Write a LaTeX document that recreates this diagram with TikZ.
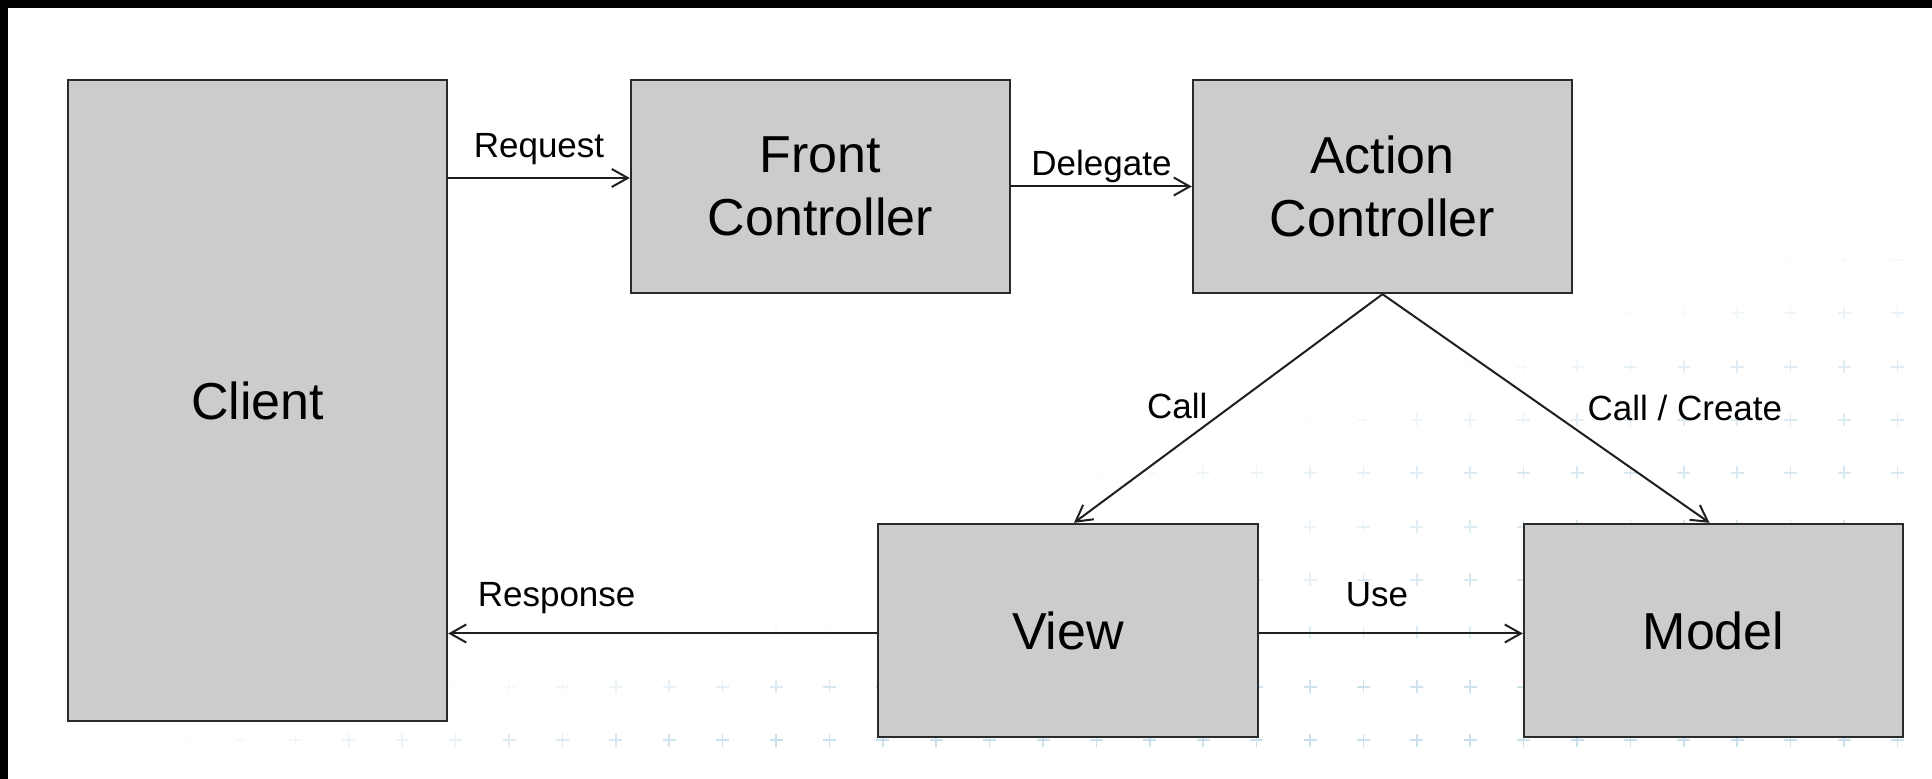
\documentclass[tikz,border=0pt]{standalone}
\usepackage{fontspec}
\setmainfont{Liberation Sans}
\usetikzlibrary{arrows.meta}
\definecolor{boxfill}{HTML}{CCCCCC}
\definecolor{boxline}{HTML}{2A2A2A}
\definecolor{crossblue}{HTML}{B4D4E6}

\begin{document}
\begin{tikzpicture}[x=0.5pt,y=-0.5pt,
  box/.style={draw=boxline, fill=boxfill, line width=1.2pt, inner sep=0pt,
    align=center, font=\fontsize{26}{31.5}\selectfont, text=black},
  conn/.style={draw=black!88, line width=1pt,
    -{Straight Barb[length=8pt,width=9pt,line width=1pt]}},
  lbl/.style={inner sep=0pt, font=\fontsize{17.5}{21}\selectfont, text=black},
  crossmark/.style={draw=crossblue, line width=0.8pt}]

% canvas and dark frame edges
\useasboundingbox (0,0) rectangle (1932,779);
\fill[white] (0,0) rectangle (1932,779);
\fill[black] (0,0) rectangle (1932,8);
\fill[black] (0,0) rectangle (8,779);

% faint grid of plus signs, fading towards the upper left
\foreach \yy/\xs/\ww/\mx in {740/150/600/0.7, 687/430/500/0.65, 633/600/700/0.45,
                             580/1000/450/0.5, 527/1150/400/0.55, 473/1050/450/0.5,
                             420/1250/400/0.45, 367/1420/300/0.4, 313/1580/300/0.3,
                             260/1740/300/0.22} {
  \foreach \k in {-24,...,11} {
    \pgfmathsetmacro\xx{1310+53.4*\k}
    \pgfmathsetmacro\op{\mx*max(0,min(1,(\xx-\xs)/\ww))}
    \ifdim\op pt>0.02pt
      \draw[crossmark, opacity=\op] (\xx-6.5,\yy) -- ++(13,0) (\xx,\yy-6.5) -- ++(0,13);
    \fi
  }
}

% components
\node[box, minimum width=189.5pt, minimum height=320.5pt] (client) at (257.5,400.5) {Client};
\node[box, minimum width=189.5pt, minimum height=106.5pt] (front)  at (820.5,186.5) {Front\\Controller};
\node[box, minimum width=189.5pt, minimum height=106.5pt] (action) at (1382.5,186.5) {Action\\Controller};
\node[box, minimum width=190pt,   minimum height=106.5pt] (view)   at (1068,630.5) {View};
\node[box, minimum width=189.5pt, minimum height=106.5pt] (model)  at (1713.5,630.5) {Model};

% levels of the horizontal connectors
\coordinate (reqlevel) at (0,178);
\coordinate (lowlevel) at (0,633.5);

% connectors
\draw[conn] (client.east |- reqlevel) -- (front.west |- reqlevel)
  node[lbl, midway, anchor=base, yshift=10pt] (reqlbl) {Request};
\draw[conn] (front.east) -- (action.west)
  node[lbl, midway, anchor=base, yshift=5.5pt] (dellbl) {Delegate};
\draw[conn] (action.south) -- ([xshift=3pt]view.north)
  node[lbl, pos=0.545, anchor=base east, xshift=-3pt] (calllbl) {Call};
\draw[conn] (action.south) -- ([xshift=-2pt]model.north)
  node[lbl, pos=0.554, anchor=base west, xshift=11.5pt] (createlbl) {Call / Create};
\draw[conn] (view.west |- lowlevel) -- (client.east |- lowlevel)
  node[lbl, pos=0.747, anchor=base, yshift=13.5pt] (resplbl) {Response};
\draw[conn] (view.east |- lowlevel) -- (model.west |- lowlevel)
  node[lbl, pos=0.447, anchor=base, yshift=13.5pt] (uselbl) {Use};
\end{tikzpicture}
\end{document}
